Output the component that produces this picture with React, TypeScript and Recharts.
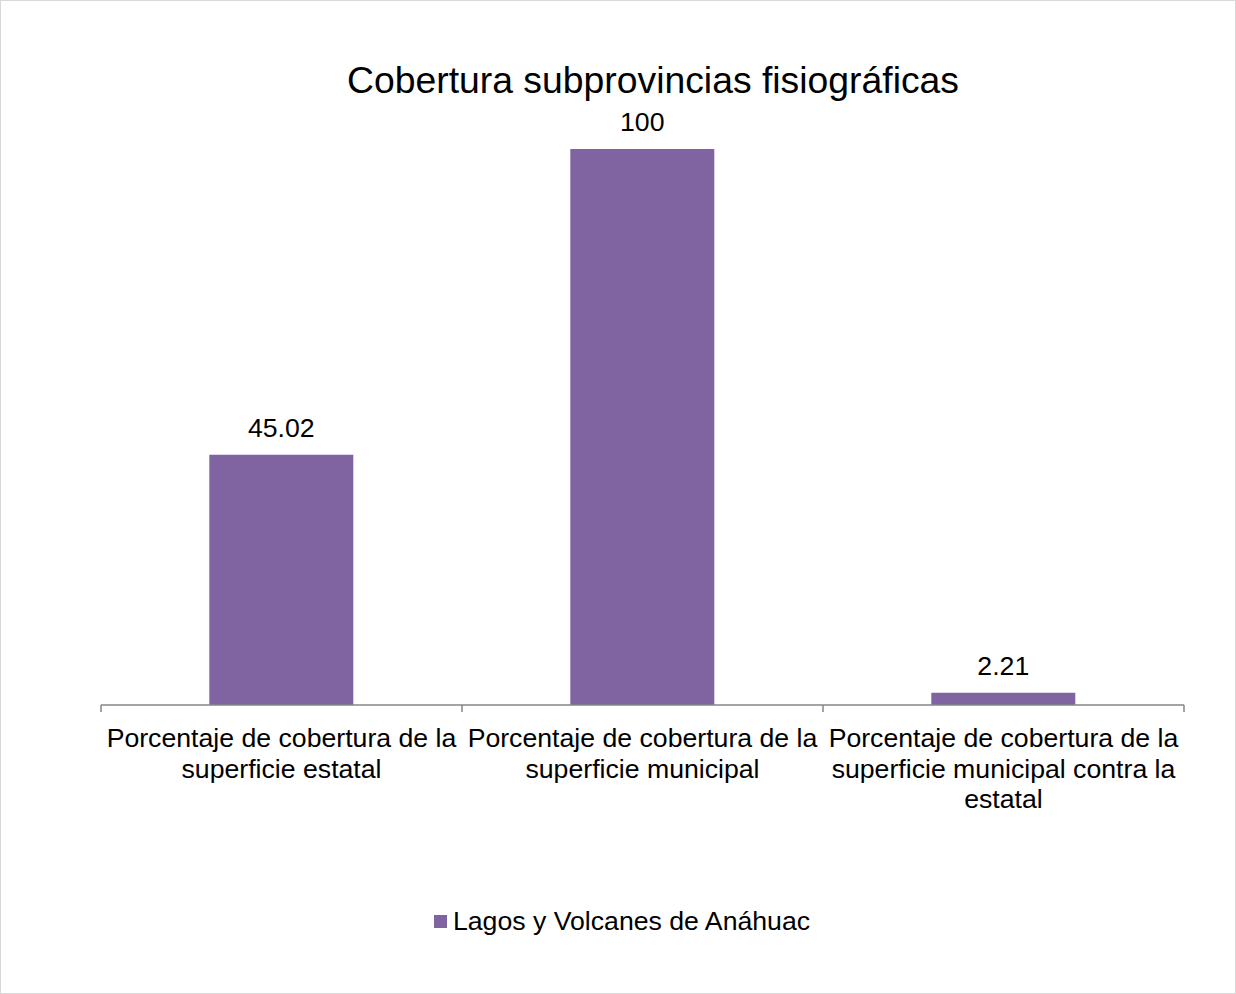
import React from 'react';
import { BarChart, Bar, XAxis, YAxis, Legend, LabelList } from 'recharts';

const categories = [
  'Porcentaje de cobertura de la superficie estatal',
  'Porcentaje de cobertura de la superficie municipal',
  'Porcentaje de cobertura de la superficie municipal contra la estatal',
];
const seriesName = 'Lagos y Volcanes de Anáhuac';
const values = [45.02, 100, 2.21];
const title = 'Cobertura subprovincias fisiográficas';

const data = categories.map((name, i) => ({ name, value: values[i] }));

const FONT = '"Liberation Sans", Arial, sans-serif';
const FS = 26.67;
const PURPLE = '#8064A2';
const AXIS = '#868686';

let ctx: CanvasRenderingContext2D | null = null;
const measure = (s: string) => {
  if (!ctx) ctx = document.createElement('canvas').getContext('2d');
  if (!ctx) return s.length * FS * 0.5;
  ctx.font = `${FS}px ${FONT}`;
  return ctx.measureText(s).width;
};

// greedy word wrap, like Excel does for category labels
const wrap = (s: string, maxW: number) => {
  const lines: string[] = [];
  let cur = '';
  s.split(' ').forEach((w) => {
    const next = cur ? `${cur} ${w}` : w;
    if (cur && measure(next) > maxW) {
      lines.push(cur);
      cur = w;
    } else cur = next;
  });
  if (cur) lines.push(cur);
  return lines;
};

// ticks sit on the band edges, label wraps under the band
const CategoryTick = (props: any) => {
  const { x, payload, index } = props;
  const half = payload?.offset ?? 180.5;
  const axisY = 705;
  const lines = wrap(String(payload.value), half * 2 - 4);
  return (
    <g>
      <line x1={x - half} x2={x - half} y1={axisY} y2={axisY + 7} stroke={AXIS} strokeWidth={1.5} />
      {index === categories.length - 1 && (
        <line x1={x + half} x2={x + half} y1={axisY} y2={axisY + 7} stroke={AXIS} strokeWidth={1.5} />
      )}
      <text textAnchor="middle" fontSize={FS} fontFamily={FONT} fill="#000">
        {lines.map((l, i) => (
          <tspan key={i} x={x} y={axisY + 42 + i * 30.5}>
            {l}
          </tspan>
        ))}
      </text>
    </g>
  );
};

const LegendContent = () => (
  <div style={{ display: 'flex', justifyContent: 'center', alignItems: 'center', height: 30, fontFamily: FONT, fontSize: FS, color: '#000' }}>
    <span style={{ display: 'inline-block', width: 13, height: 13, background: PURPLE, marginRight: 6 }} />
    <span>{seriesName}</span>
  </div>
);

export default function App() {
  return (
    <div style={{ position: 'relative', width: 1236, height: 994, boxSizing: 'border-box', border: '1px solid #D9D9D9', background: '#fff' }}>
      <style>{'body{margin:0}'}</style>
      <div
        style={{
          position: 'absolute',
          top: 61,
          left: 34,
          width: 1236,
          textAlign: 'center',
          fontFamily: FONT,
          fontSize: 37.33,
          lineHeight: '37px',
          color: '#000',
        }}
      >
        {title}
      </div>
      <div style={{ position: 'absolute', top: -1, left: 0 }}>
        <BarChart width={1236} height={994} data={data} margin={{ top: 149, right: 53, bottom: 159, left: 100 }} barCategoryGap="30%">
          <XAxis
            dataKey="name"
            interval={0}
            height={100}
            axisLine={{ stroke: AXIS, strokeWidth: 1.5 }}
            tickLine={false}
            tick={<CategoryTick />}
          />
          <YAxis hide domain={[0, 100]} />
          <Legend verticalAlign="bottom" content={<LegendContent />} wrapperStyle={{ top: 906, left: 3, width: 1236, height: 30 }} />
          <Bar dataKey="value" name={seriesName} fill={PURPLE} isAnimationActive={false}>
            <LabelList dataKey="value" position="top" offset={18} fontSize={FS} fontFamily={FONT} fill="#000" />
          </Bar>
        </BarChart>
      </div>
    </div>
  );
}
